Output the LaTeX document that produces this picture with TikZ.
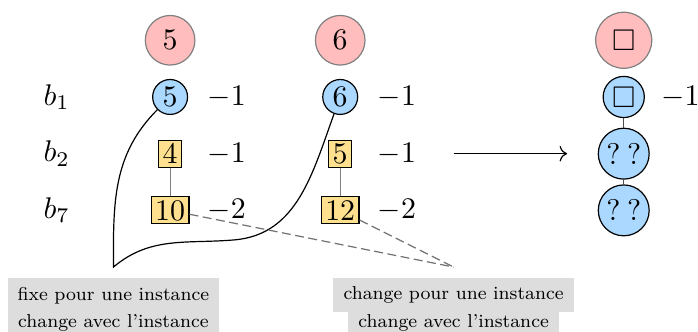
\documentclass[tikz,border=0pt]{standalone}
\usepackage{amsmath,amssymb}
\usetikzlibrary{arrows.meta,positioning,calc}
\definecolor{rootred}{HTML}{FFBDBD}
\definecolor{valblue}{HTML}{AAD8FF}
\definecolor{cstyellow}{HTML}{FFE08E}
\definecolor{notegray}{HTML}{DDDDDD}
\tikzset{
  rootnode/.style={circle, draw=gray, fill=rootred, inner sep=3pt},
  valnode/.style={circle, draw=black, fill=valblue, inner sep=1.25pt},
  cstbox/.style={draw=black, fill=cstyellow, inner sep=1.3pt},
  link/.style={draw=gray},
  qlink/.style={draw=black!70},
  note/.style={fill=notegray, font=\footnotesize, inner xsep=4.3pt, inner ysep=3.7pt, scale=0.78, transform shape},
  arrow/.style={-{To}, draw=black},
  brace/.style={draw=black},
  dashlink/.style={draw=black!55, dash pattern=on 3pt off 1.5pt}
}

\begin{document}
\begin{tikzpicture}[x=0.6667cm, y=0.6667cm]
  \useasboundingbox (0,-4.13) rectangle (12.31,1.71);
  % row labels
  \node (lb1) at (1,0) {$b_1$};
  \node (lb2) at (1,-1) {$b_2$};
  \node (lb7) at (1,-2) {$b_7$};
  % first instance
  \node[rootnode] (r5) at (3,1) {$5$};
  \node[valnode] (v5) at (3,0) {$5$};
  \node[cstbox] (w4) at (3,-1) {$4$};
  \node[cstbox] (w10) at (3,-2) {$10$};
  \node (c5a) at (4,0) {$-1$};
  \node (c5b) at (4,-1) {$-1$};
  \node (c5c) at (4,-2) {$-2$};
  \draw[link] (w4) -- (w10);
  % second instance
  \node[rootnode] (r6) at (6,1) {$6$};
  \node[valnode] (v6) at (6,0) {$6$};
  \node[cstbox] (w5) at (6,-1) {$5$};
  \node[cstbox] (w12) at (6,-2) {$12$};
  \node (c6a) at (7,0) {$-1$};
  \node (c6b) at (7,-1) {$-1$};
  \node (c6c) at (7,-2) {$-2$};
  \draw[link] (w5) -- (w12);
  % unknown instance
  \node[rootnode] (rq) at (11,1) {$\square$};
  \node[valnode] (vq) at (11,0) {$\square$};
  \node[valnode] (q1) at (11,-1) {$?\:?$};
  \node[valnode] (q2) at (11,-2) {$?\:?$};
  \node (cq) at (12,0) {$-1$};
  \draw[qlink] (vq) -- (q1);
  \draw[qlink] (q1) -- (q2);
  \coordinate (arrS) at (8,-1);
  \coordinate (arrE) at (10,-1);
  \draw[arrow] (arrS) -- (arrE);
  % notes
  \coordinate (fixe) at (2,-3);
  \coordinate (bend) at (4.14,-2.52);
  \coordinate (chg) at (8,-3);
  \draw[brace] (v5) to[out=-135, in=90] (fixe) to[out=40, in=185] (bend) to[out=5, in=-110] (v6);
  \draw[dashlink] (w10) -- (chg);
  \draw[dashlink] (w12) -- (chg);
  \node[note] (n1) at (2,-3.5) {fixe pour une instance};
  \node[note] (n2) at (2,-3.98) {change avec l'instance};
  \node[note] (n3) at (8,-3.5) {change pour une instance};
  \node[note] (n4) at (8,-3.98) {change avec l'instance};
\end{tikzpicture}
\end{document}
